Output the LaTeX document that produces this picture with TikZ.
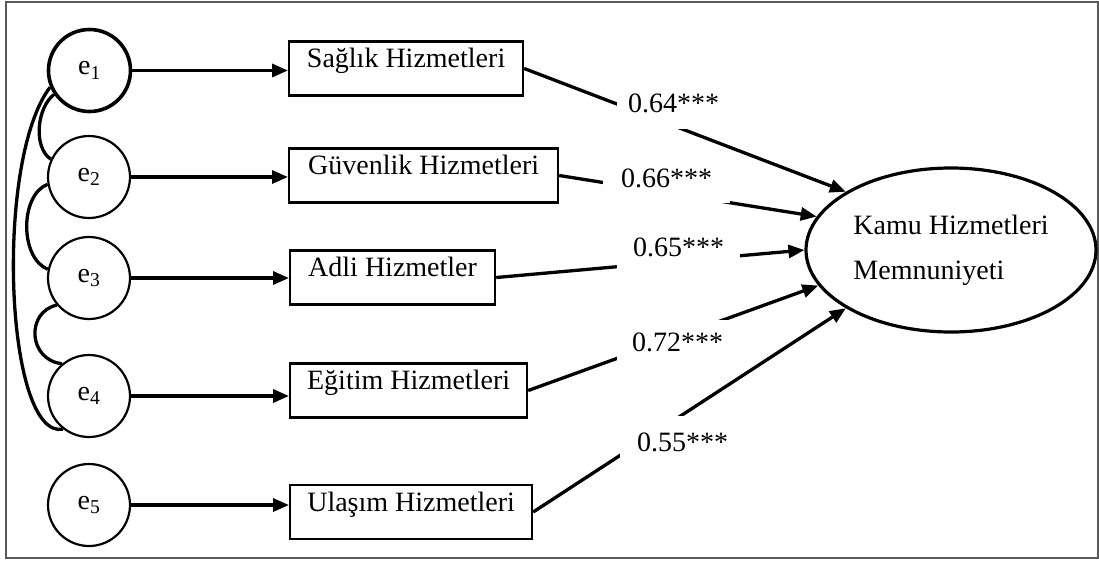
\documentclass[tikz,border=0pt]{standalone}
\usepackage{fontspec}
\setmainfont{Liberation Serif}
\usetikzlibrary{shapes.geometric,arrows.meta}
\begin{document}
\begin{tikzpicture}[x=1pt,y=-1pt,
  every node/.style={font=\fontsize{28}{33}\selectfont},
  err/.style={circle,draw,line width=2.2pt,minimum size=82pt,inner sep=0pt},
  obs/.style={rectangle,draw,line width=2.2pt,anchor=west,minimum height=54pt,
    inner ysep=0pt,inner xsep=0pt,text height=26pt,text depth=28pt},
  lat/.style={ellipse,draw,line width=3.2pt,minimum width=290pt,minimum height=164pt,
    inner sep=0pt,align=left,font=\fontsize{28}{45}\selectfont},
  conn/.style={line width=3.3pt,-{Triangle[length=16pt,width=13pt]}},
  cov/.style={line width=3.3pt},
  coef/.style={fill=white,inner sep=0pt}
]
\fill[white] (0,0) rectangle (1099,560);
\useasboundingbox (0,0) rectangle (1099,560);
\draw[black!65,line width=2pt] (6,2) rectangle (1098,558);

% error terms
\node[err,line width=3.6pt] (e1) at (89.5,70.5) {e\textsubscript{1}};
\node[err] (e2) at (89,177) {e\textsubscript{2}};
\node[err] (e3) at (89,278) {e\textsubscript{3}};
\node[err] (e4) at (89,396) {e\textsubscript{4}};
\node[err] (e5) at (89,505) {e\textsubscript{5}};

% observed variables
\node[obs,minimum width=234pt] (s1) at (288,68.5) {Sağlık Hizmetleri};
\node[obs,minimum width=269pt] (s2) at (288,175.5) {Güvenlik Hizmetleri};
\node[obs,minimum width=205pt] (s3) at (289,277.5) {Adli Hizmetler};
\node[obs,minimum width=237pt] (s4) at (289,390.5) {Eğitim Hizmetleri};
\node[obs,minimum width=242pt] (s5) at (289,512) {Ulaşım Hizmetleri};

% latent variable
\node[lat] (K) at (951,250) {Kamu Hizmetleri\\Memnuniyeti};

% error arrows
\foreach \i in {1,...,5}{
  \draw[conn] (e\i.east) -- (e\i.east -| s\i.west);
}

% covariances
\draw[cov] (e1.214) .. controls +(-17,13) and +(-18,-12) .. (e2.155);
\draw[cov] (e2.190) .. controls +(-28,11) and +(-28,-11) .. (e3.168);
\draw[cov] (e3.220) .. controls +(-31,7) and +(-34,-4) .. (e4.130);
\draw[cov] (e1.203) .. controls +(-56,73) and +(-58,11) .. (e4.232);

% paths to latent
\draw[conn] (s1.east) -- (K.151);
\draw[conn] (s2.east) -- (K.166);
\draw[conn] (s3.east) -- (K.180);
\draw[conn] (s4.east) -- (K.195);
\draw[conn] (s5.east) -- (K.209);

% coefficients
\node[coef,minimum width=113pt,minimum height=50pt] (c1) at (673.5,103.5) {0.64***};
\node[coef,minimum width=127pt,minimum height=50pt] (c2) at (666.5,178) {0.66***};
\node[coef,minimum width=123pt,minimum height=46pt] (c3) at (678.5,247.5) {0.65***};
\node[coef,minimum width=121pt,minimum height=44pt] (c4) at (677.5,342) {0.72***};
\node[coef,minimum width=125pt,minimum height=52pt] (c5) at (682.5,442) {0.55***};
\end{tikzpicture}
\end{document}
